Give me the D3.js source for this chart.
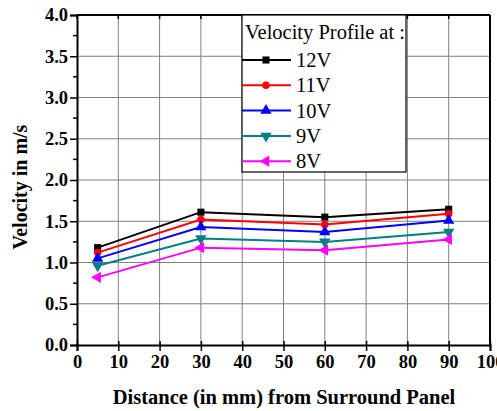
<!DOCTYPE html>
<html>
<head>
<meta charset="utf-8">
<script src="https://cdn.jsdelivr.net/npm/d3@7"></script>
<style>
  body { margin: 0; background: #fff; }
  svg { display: block; }
  text { font-family: "Liberation Serif", "DejaVu Serif", serif; }
</style>
</head>
<body>
<svg id="chart" width="497" height="411"></svg>
<script>
// distances (mm) and velocities (m/s) per supply voltage
const distances = [5, 30, 60, 90];
const v12 = [1.18, 1.61, 1.55, 1.645];
const v11 = [1.12, 1.52, 1.46, 1.59];
const v10 = [1.05, 1.43, 1.37, 1.51];
const v9  = [0.96, 1.29, 1.25, 1.37];
const v8  = [0.82, 1.18, 1.15, 1.28];
const seriesNames = ['12V', '11V', '10V', '9V', '8V'];
const xTicks = [0, 10, 20, 30, 40, 50, 60, 70, 80, 90, 100];
const yTicks = [0, 0.5, 1.0, 1.5, 2.0, 2.5, 3.0, 3.5, 4.0];

const series = [
    { name: seriesNames[0], values: v12, color: '#000000', sym: d3.symbolSquare,   size: 50, rot: 0 },
    { name: seriesNames[1], values: v11, color: '#ff0000', sym: d3.symbolCircle,   size: 45, rot: 0 },
    { name: seriesNames[2], values: v10, color: '#0000ff', sym: d3.symbolTriangle, size: 55, rot: 0 },
    { name: seriesNames[3], values: v9,  color: '#008080', sym: d3.symbolTriangle, size: 55, rot: 180 },
    { name: seriesNames[4], values: v8,  color: '#ff00ff', sym: d3.symbolTriangle, size: 55, rot: -90 },
];

const margin = { left: 77, right: 7, top: 15, bottom: 66 };
const W = 497 - margin.left - margin.right;
const H = 411 - margin.top - margin.bottom;

const svg = d3.select('#chart');
const g = svg.append('g').attr('transform', `translate(${margin.left},${margin.top})`);

const x = d3.scaleLinear().domain([0, 100]).range([0, W]);
const y = d3.scaleLinear().domain([0, 4]).range([H, 0]);

// grid
g.append('g').selectAll('line').data(xTicks.slice(1, -1)).join('line')
    .attr('x1', d => x(d)).attr('x2', d => x(d)).attr('y1', 0).attr('y2', H)
    .attr('stroke', '#808080').attr('stroke-width', 1);
g.append('g').selectAll('line').data(yTicks.slice(1, -1)).join('line')
    .attr('y1', d => y(d)).attr('y2', d => y(d)).attr('x1', 0).attr('x2', W)
    .attr('stroke', '#808080').attr('stroke-width', 1);

// axes
const tickFont = sel => sel.selectAll('text')
    .style('font-family', '"Liberation Serif", serif')
    .style('font-weight', 'bold').style('font-size', '18.5px').attr('fill', '#000');

const xAxis = g.append('g').attr('transform', `translate(0,${H})`)
    .call(d3.axisBottom(x).tickValues(xTicks).tickFormat(d3.format('d')).tickSize(6).tickPadding(4));
xAxis.call(tickFont);
xAxis.select('.domain').attr('stroke-width', 2);
xAxis.selectAll('.tick line').attr('stroke-width', 1.5).attr('y1', -4);

const yAxis = g.append('g')
    .call(d3.axisLeft(y).tickValues(yTicks).tickFormat(d3.format('.1f')).tickSize(7).tickPadding(2));
yAxis.call(tickFont);
yAxis.select('.domain').attr('stroke-width', 2);
yAxis.selectAll('.tick line').attr('stroke-width', 1.5);

// minor y ticks
g.append('g').selectAll('line').data(d3.range(0.25, 4, 0.5)).join('line')
    .attr('x1', -4).attr('x2', 0).attr('y1', d => y(d)).attr('y2', d => y(d))
    .attr('stroke', '#000').attr('stroke-width', 1.5);

// top & right frame
g.append('line').attr('x1', 0).attr('x2', W).attr('y1', 0).attr('y2', 0)
    .attr('stroke', '#000').attr('stroke-width', 2);
g.append('line').attr('x1', W).attr('x2', W).attr('y1', 0).attr('y2', H)
    .attr('stroke', '#000').attr('stroke-width', 2);
g.append('g').selectAll('line').data(xTicks).join('line')
    .attr('x1', d => x(d)).attr('x2', d => x(d)).attr('y1', 0).attr('y2', 4)
    .attr('stroke', '#000').attr('stroke-width', 1.5);

// series
const line = d3.line().x((d, i) => x(distances[i])).y(d => y(d));
series.forEach(s => {
    g.append('path').datum(s.values)
        .attr('fill', 'none').attr('stroke', s.color).attr('stroke-width', 2)
        .attr('d', line);
    g.selectAll(null).data(s.values).join('path')
        .attr('transform', (d, i) => `translate(${x(distances[i])},${y(d)}) rotate(${s.rot})`)
        .attr('d', d3.symbol().type(s.sym).size(s.size))
        .attr('fill', s.color);
});

// legend
const lg = svg.append('g').attr('transform', 'translate(242,15)');
lg.append('rect').attr('width', 164).attr('height', 157)
    .attr('fill', '#fff').attr('stroke', '#000').attr('stroke-width', 1.2);
lg.append('text').attr('x', 3).attr('y', 24)
    .style('font-size', '20.5px').text('Velocity Profile at :');
series.forEach((s, i) => {
    const ly = 45 + i * 25.3;
    lg.append('line').attr('x1', 0).attr('x2', 49).attr('y1', ly).attr('y2', ly)
        .attr('stroke', s.color).attr('stroke-width', 2);
    lg.append('path')
        .attr('transform', `translate(24,${ly}) rotate(${s.rot})`)
        .attr('d', d3.symbol().type(s.sym).size(s.size))
        .attr('fill', s.color);
    lg.append('text').attr('x', 54).attr('y', ly + 7)
        .style('font-size', '20.5px').text(s.name);
});

// axis titles
svg.append('text')
    .attr('transform', 'translate(27,187) rotate(-90)')
    .attr('text-anchor', 'middle')
    .style('font-weight', 'bold').style('font-size', '20px')
    .text('Velocity in m/s');
svg.append('text')
    .attr('x', 284).attr('y', 404)
    .attr('text-anchor', 'middle')
    .style('font-weight', 'bold').style('font-size', '20.5px')
    .text('Distance (in mm) from Surround Panel');
</script>
</body>
</html>
